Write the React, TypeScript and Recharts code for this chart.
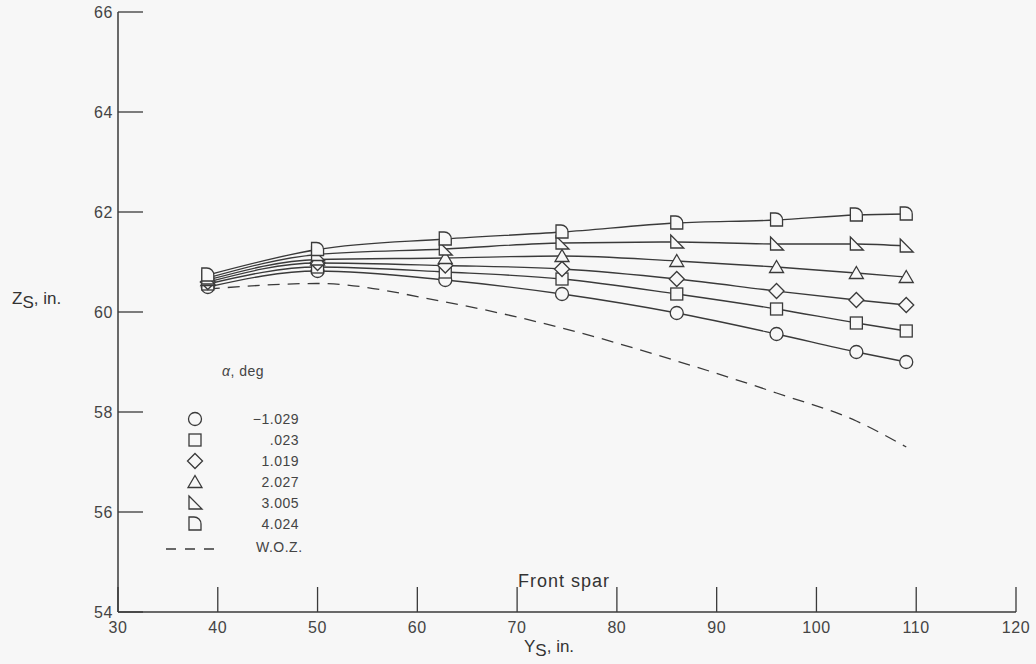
import React from "react";
import { ComposedChart, Line, XAxis, YAxis } from "recharts";

const spanStations = [39, 50, 62.8, 74.5, 86, 96, 104, 109];
const alphaLabels = ["\u22121.029", ".023", "1.019", "2.027", "3.005", "4.024"];
const markerKinds = ["circle", "square", "diamond", "triangle", "rightTri", "dee"];

const zCircle = [60.5, 60.82, 60.64, 60.36, 59.98, 59.56, 59.2, 59.0];
const zSquare = [60.56, 60.9, 60.8, 60.66, 60.36, 60.06, 59.78, 59.62];
const zDiamond = [60.6, 60.98, 60.93, 60.86, 60.66, 60.42, 60.24, 60.14];
const zTriangle = [60.64, 61.05, 61.08, 61.12, 61.02, 60.9, 60.78, 60.7];
const zRightTri = [60.68, 61.15, 61.26, 61.38, 61.4, 61.36, 61.36, 61.32];
const zDee = [60.74, 61.25, 61.46, 61.6, 61.78, 61.84, 61.94, 61.96];
const zWoz = [60.46, 60.57, 60.2, 59.68, 59.02, 58.38, 57.82, 57.3];

const xTicks = [30, 40, 50, 60, 70, 80, 90, 100, 110, 120];
const yTicks = [54, 56, 58, 60, 62, 64, 66];

const seriesKeys = ["s0", "s1", "s2", "s3", "s4", "s5"];
const seriesValues = [zCircle, zSquare, zDiamond, zTriangle, zRightTri, zDee];

const rows = spanStations.map((y, i) => {
  const row: Record<string, number> = { y, woz: zWoz[i] };
  seriesKeys.forEach((k, j) => {
    row[k] = seriesValues[j][i];
  });
  return row;
});

const INK = "#3a3a3a";
const BG = "#f7f7f7";
const FONT = "'Liberation Sans', Arial, sans-serif";

function Marker({ kind, cx, cy }: { kind: string; cx: number; cy: number }) {
  const common = { fill: BG, stroke: INK, strokeWidth: 1.3 };
  let el: React.ReactNode = null;
  if (kind === "circle") el = <circle cx={0} cy={0} r={6.5} {...common} />;
  else if (kind === "square") el = <rect x={-6} y={-6} width={12} height={12} {...common} />;
  else if (kind === "diamond")
    el = <path d="M0,-7.5 L7.5,0 L0,7.5 L-7.5,0 Z" {...common} />;
  else if (kind === "triangle")
    el = <path d="M0,-6.5 L7,5.5 L-7,5.5 Z" {...common} />;
  else if (kind === "rightTri")
    el = <path d="M-6,-7 L7,6 L-6,6 Z" {...common} />;
  else el = <path d="M-6,-7 L-1,-7 A7,7 0 0 1 6,0 L6,6 L-6,6 Z" {...common} />;
  return <g transform={`translate(${cx},${cy})`}>{el}</g>;
}

const XTick = (props: any) => {
  const { x, y, payload } = props;
  return (
    <g>
      <line x1={x} y1={y} x2={x} y2={y - 25} stroke={INK} strokeWidth={1.3} />
      <text
        x={x}
        y={y + 21}
        textAnchor="middle"
        fill="#444"
        fontSize={16}
        letterSpacing={0.6}
        fontFamily={FONT}
      >
        {payload.value}
      </text>
    </g>
  );
};

const YTick = (props: any) => {
  const { x, y, payload } = props;
  return (
    <g>
      <line x1={x} y1={y} x2={x + 25} y2={y} stroke={INK} strokeWidth={1.3} />
      <text
        x={x - 5}
        y={y + 6}
        textAnchor="end"
        fill="#444"
        fontSize={16}
        letterSpacing={0.6}
        fontFamily={FONT}
      >
        {payload.value}
      </text>
    </g>
  );
};

const LegendBlock = () => (
  <div
    style={{
      position: "absolute",
      left: 166,
      top: 363,
      fontFamily: FONT,
      fontSize: 14,
      letterSpacing: 0.5,
      color: "#444",
    }}
  >
    <div style={{ marginLeft: 56, height: 45 }}>
      <i>{"\u03b1"}</i>, deg
    </div>
    {alphaLabels.map((lab, i) => (
      <div key={lab} style={{ display: "flex", alignItems: "center", height: 21 }}>
        <svg width={40} height={20}>
          <Marker kind={markerKinds[i]} cx={29} cy={10} />
        </svg>
        <span style={{ width: 93, textAlign: "right" }}>{lab}</span>
      </div>
    ))}
    <div style={{ display: "flex", alignItems: "center", height: 26 }}>
      <svg width={90} height={20}>
        <line x1={0} y1={12} x2={52} y2={12} stroke={INK} strokeWidth={1.3} strokeDasharray="10 9" />
      </svg>
      <span>W.O.Z.</span>
    </div>
  </div>
);

export default function App() {
  return (
    <div
      style={{
        position: "fixed",
        left: 0,
        top: 0,
        width: 1036,
        height: 664,
        background: BG,
      }}
    >
      <ComposedChart
        width={1036}
        height={664}
        data={rows}
        margin={{ top: 12, right: 20, bottom: 22, left: 88 }}
      >
        <XAxis
          dataKey="y"
          type="number"
          domain={[30, 120]}
          ticks={xTicks}
          interval={0}
          height={30}
          tickSize={0}
          tickMargin={0}
          tickLine={false}
          tick={<XTick />}
          axisLine={{ stroke: INK, strokeWidth: 1.5 }}
          allowDataOverflow
        />
        <YAxis
          type="number"
          domain={[54, 66]}
          ticks={yTicks}
          interval={0}
          width={30}
          tickSize={0}
          tickMargin={0}
          tickLine={false}
          tick={<YTick />}
          axisLine={{ stroke: INK, strokeWidth: 1.5 }}
          allowDataOverflow
        />
        <Line
          dataKey="woz"
          type="monotone"
          stroke={INK}
          strokeWidth={1.3}
          strokeDasharray="12 8"
          dot={false}
          isAnimationActive={false}
        />
        {seriesKeys.map((k, i) => (
          <Line
            key={k}
            dataKey={k}
            type="monotone"
            stroke={INK}
            strokeWidth={1.3}
            isAnimationActive={false}
            dot={(p: any) => (
              <Marker key={`${k}-${p.index}`} kind={markerKinds[i]} cx={p.cx} cy={p.cy} />
            )}
          />
        ))}
      </ComposedChart>

      <LegendBlock />

      <div
        style={{
          position: "absolute",
          left: 518,
          top: 571,
          fontFamily: FONT,
          fontSize: 18,
          letterSpacing: 1,
          color: "#333",
        }}
      >
        Front spar
      </div>

      <div
        style={{
          position: "absolute",
          left: 12,
          top: 289,
          fontFamily: FONT,
          fontSize: 17,
          color: "#333",
        }}
      >
        Z<sub style={{ fontSize: 17 }}>S</sub>, in.
      </div>

      <div
        style={{
          position: "absolute",
          left: 524,
          top: 637,
          fontFamily: FONT,
          fontSize: 17,
          color: "#333",
        }}
      >
        Y<sub style={{ fontSize: 17 }}>S</sub>, in.
      </div>
    </div>
  );
}
